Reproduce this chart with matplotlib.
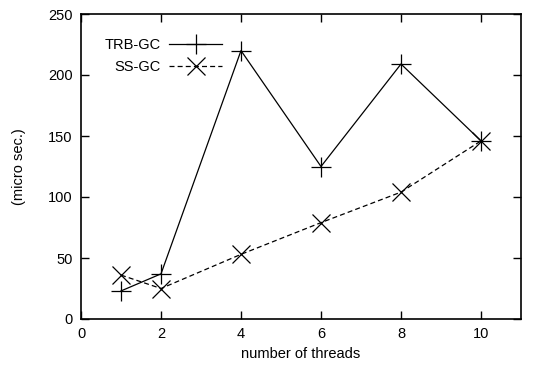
import matplotlib
matplotlib.use("Agg")
import matplotlib.pyplot as plt

plt.rcParams["font.family"] = ["Liberation Sans", "DejaVu Sans"]
plt.rcParams["font.size"] = 10.5

threads = [1, 2, 4, 6, 8, 10]
trb_gc = [23, 37, 220, 125, 209, 146]
ss_gc = [36, 25, 53, 79, 104, 146]

fig = plt.figure(figsize=(5.41, 3.70), dpi=100)
ax = fig.add_axes([81/541, 1 - 319/370, 440/541, 305/370])

ax.plot(threads, trb_gc, color="black", linewidth=0.9, marker="+",
        markersize=15, markeredgewidth=0.9, label="TRB-GC")
ax.plot(threads, ss_gc, color="black", linewidth=0.9, linestyle=(0, (4, 2.5)),
        marker="x", markersize=13, markeredgewidth=0.9, label="SS-GC")

ax.set_xlim(0, 11)
ax.set_ylim(0, 250)
ax.set_xticks([0, 2, 4, 6, 8, 10])
ax.set_yticks([0, 50, 100, 150, 200, 250])
ax.tick_params(direction="in", top=True, right=True, length=6, width=1, pad=6)
for s in ax.spines.values():
    s.set_linewidth(1.2)

ax.set_xlabel("number of threads")
ax.set_ylabel("(micro sec.)", labelpad=16)

ax.legend(loc="upper left", frameon=False, markerfirst=False, handlelength=3.6,
          handletextpad=0.6, borderaxespad=0.6, labelspacing=0.55,
          bbox_to_anchor=(0.02, 0.97))

fig.savefig("out.png", dpi=100)
